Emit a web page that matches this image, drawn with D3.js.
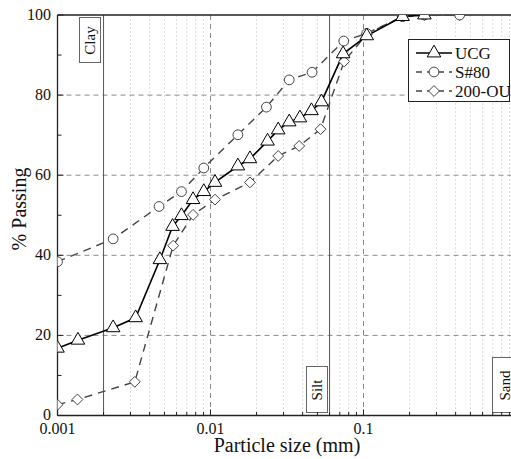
<!DOCTYPE html>
<html><head><meta charset="utf-8">
<script src="https://cdn.jsdelivr.net/npm/d3@7"></script>
<style>body{margin:0;background:#fff}svg{display:block}
svg text{font-family:'Liberation Serif','Times New Roman','DejaVu Serif',serif !important}</style>
</head><body><svg id="c" width="511" height="459"></svg>
<script>
const ucgSize = [0.001, 0.00136, 0.00231, 0.00324, 0.00467, 0.00565, 0.00646, 0.00769, 0.00904, 0.0107, 0.0151, 0.0181, 0.0236, 0.0277, 0.0327, 0.0384, 0.0457, 0.0531, 0.0736, 0.105, 0.18, 0.25];
const ucgPass = [16.8, 18.8, 21.9, 24.4, 38.9, 47.2, 49.9, 53.9, 55.9, 58.2, 62.3, 64.1, 68.5, 71.3, 73.3, 74.3, 76.1, 78.3, 90.3, 94.8, 99.6, 100];
const s80Size = [0.001, 0.00231, 0.00461, 0.00646, 0.00904, 0.0151, 0.0232, 0.0327, 0.0461, 0.0743, 0.105, 0.18, 0.25, 0.425];
const s80Pass = [38.4, 44.1, 52.2, 55.9, 61.8, 70.1, 77.0, 83.8, 85.7, 93.5, 95.4, 99.6, 100, 100];
const ouSize = [0.001, 0.00135, 0.0032, 0.0057, 0.00769, 0.0107, 0.0181, 0.0277, 0.038, 0.0524, 0.0747, 0.105, 0.18, 0.25, 0.425];
const ouPass = [2.7, 4.0, 8.4, 42.4, 50.1, 53.9, 58.2, 64.8, 67.3, 71.5, 88.4, 95.2, 99.6, 100, 100];
const seriesNames = ["UCG", "S#80", "200-OU"];
const xTicks = [0.001, 0.01, 0.1];
const yTicks = [0, 20, 40, 60, 80, 100];
const boundaries = [0.002, 0.06];
const zoneLabels = ["Clay", "Silt", "Sand"];

const svg = d3.select("#c");
const x = d3.scaleLog().domain([0.001, 1]).range([57.5, 516.5]);
const y = d3.scaleLinear().domain([0, 100]).range([415.5, 15]);
const L = 57.5, R = 516.5, T = 15, B = 415.5;

svg.append("defs").append("clipPath").attr("id","clip").append("rect")
  .attr("x", L).attr("y", T).attr("width", R-L).attr("height", B-T);

const minors = [];
for (let e=-3; e<0; e++) for (let m=2; m<=9; m++) minors.push(m*Math.pow(10,e));
svg.append("g").selectAll("line").data(minors).join("line")
  .attr("x1", d=>x(d)).attr("x2", d=>x(d)).attr("y1", T).attr("y2", B)
  .attr("stroke", "#d4d4d4").attr("stroke-width", 0.8).attr("stroke-dasharray", "2,2");
svg.append("g").selectAll("line").data(xTicks.slice(1)).join("line")
  .attr("x1", d=>x(d)).attr("x2", d=>x(d)).attr("y1", T).attr("y2", B)
  .attr("stroke", "#8a8a8a").attr("stroke-width", 1).attr("stroke-dasharray", "5,4");
svg.append("g").selectAll("line").data(yTicks.slice(1,5)).join("line")
  .attr("x1", L).attr("x2", R).attr("y1", d=>y(d)).attr("y2", d=>y(d))
  .attr("stroke", "#8a8a8a").attr("stroke-width", 1).attr("stroke-dasharray", "5,4");

svg.append("g").selectAll("line").data(boundaries).join("line")
  .attr("x1", d=>x(d)).attr("x2", d=>x(d)).attr("y1", T).attr("y2", B)
  .attr("stroke", "#555").attr("stroke-width", 1);

const zoneBoxes = [
  {t: zoneLabels[0], x0: 79, y0: 17, w: 21, h: 45},
  {t: zoneLabels[1], x0: 306, y0: 366, w: 21, h: 46},
  {t: zoneLabels[2], x0: 492, y0: 357, w: 24, h: 55}
];
const zg = svg.append("g").selectAll("g").data(zoneBoxes).join("g");
zg.append("rect").attr("x", d=>d.x0+0.5).attr("y", d=>d.y0+0.5).attr("width", d=>d.w).attr("height", d=>d.h)
  .attr("fill", "#fff").attr("stroke", "#666").attr("stroke-width", 1);
zg.append("text").attr("transform", d=>`translate(${d.x0+d.w/2+5.5},${d.y0+d.h/2+1}) rotate(-90)`)
  .attr("text-anchor", "middle").attr("font-size", 15).attr("fill", "#111").text(d=>d.t);

const ax = svg.append("g");
ax.append("line").attr("x1", L).attr("x2", 511).attr("y1", T).attr("y2", T).attr("stroke", "#222").attr("stroke-width", 1.3);
ax.append("line").attr("x1", L).attr("x2", L).attr("y1", T).attr("y2", B).attr("stroke", "#222").attr("stroke-width", 1.3);
ax.append("line").attr("x1", L).attr("x2", 511).attr("y1", B).attr("y2", B).attr("stroke", "#222").attr("stroke-width", 1.3);
const yMinor = [10,30,50,70,90];
ax.selectAll(".ytm").data(yTicks).join("line").attr("class","ytm").attr("x1", L).attr("x2", L+6).attr("y1", d=>y(d)).attr("y2", d=>y(d)).attr("stroke","#222");
ax.selectAll(".ytn").data(yMinor).join("line").attr("class","ytn").attr("x1", L).attr("x2", L+4).attr("y1", d=>y(d)).attr("y2", d=>y(d)).attr("stroke","#222");
ax.selectAll(".xtm").data(xTicks).join("line").attr("class","xtm").attr("x1", d=>x(d)).attr("x2", d=>x(d)).attr("y1", B).attr("y2", B-6).attr("stroke","#222");
ax.selectAll(".xtn").data(minors).join("line").attr("class","xtn").attr("x1", d=>x(d)).attr("x2", d=>x(d)).attr("y1", B).attr("y2", B-3.5).attr("stroke","#222");
ax.selectAll(".ytl").data(yTicks).join("text").attr("class","ytl").attr("x", 51).attr("y", d=>y(d)+4.5)
  .attr("text-anchor","end").attr("font-size", 16).attr("fill","#111").text(d=>d);
ax.selectAll(".xtl").data(xTicks).join("text").attr("class","xtl").attr("x", d=>x(d)).attr("y", 434)
  .attr("text-anchor","middle").attr("font-size", 16).attr("fill","#111").text(d=>d3.format("")(d));
svg.append("text").attr("x", 287).attr("y", 452).attr("text-anchor","middle").attr("font-size", 20).attr("fill","#111").text("Particle size (mm)");
svg.append("text").attr("transform","translate(26,209) rotate(-90)").attr("text-anchor","middle").attr("font-size", 20).attr("fill","#111").text("% Passing");

const diamondSym = d3.symbolDiamond2 || d3.symbolDiamond;
const line = d3.line().x(d=>x(d[0])).y(d=>y(d[1]));
const series = [
  {name: seriesNames[0], pts: d3.zip(ucgSize, ucgPass), dash: null, col: "#000", sym: d3.symbolTriangle, size: 80, sw: 1.6},
  {name: seriesNames[1], pts: d3.zip(s80Size, s80Pass), dash: "8,6", col: "#444", sym: d3.symbolCircle, size: 75, sw: 1.4},
  {name: seriesNames[2], pts: d3.zip(ouSize, ouPass), dash: "8,6", col: "#444", sym: diamondSym, size: 75, sw: 1.4}
];
const pg = svg.append("g").attr("clip-path","url(#clip)");
series.slice().reverse().forEach(s=>{
  pg.append("path").attr("d", line(s.pts)).attr("fill","none").attr("stroke", s.col)
    .attr("stroke-width", s.sw).attr("stroke-dasharray", s.dash);
});
series.slice().reverse().forEach(s=>{
  pg.selectAll(null).data(s.pts).join("path")
    .attr("transform", d=>`translate(${x(d[0])},${y(d[1])})`)
    .attr("d", d3.symbol().type(s.sym).size(s.size)())
    .attr("fill","#fff").attr("stroke", s.col).attr("stroke-width", 1);
});

const lg = svg.append("g");
lg.append("rect").attr("x", 408.5).attr("y", 39.5).attr("width", 101).attr("height", 62).attr("fill","#fff").attr("stroke","#222").attr("stroke-width",1);
series.forEach((s,i)=>{
  const yy = 53 + i*19;
  lg.append("line").attr("x1", 416).attr("x2", 452).attr("y1", yy).attr("y2", yy).attr("stroke", s.col)
    .attr("stroke-width", s.sw).attr("stroke-dasharray", s.dash ? "6,5" : null);
  lg.append("path").attr("transform", `translate(434,${yy})`).attr("d", d3.symbol().type(s.sym).size(s.size)())
    .attr("fill","#fff").attr("stroke", s.col).attr("stroke-width",1);
  lg.append("text").attr("x", 455).attr("y", yy+6).attr("font-size", 17).attr("fill","#111").text(s.name);
});
</script></body></html>
